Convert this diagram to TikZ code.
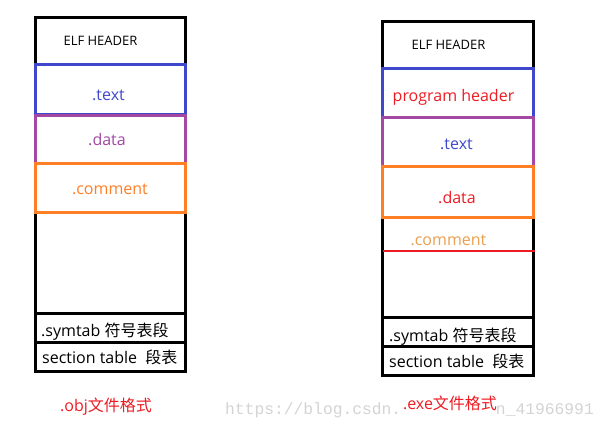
\documentclass[tikz,border=0pt]{standalone}
\usepackage{fontspec}
\setmainfont{Open Sans}
\newfontfamily\cjk{Noto Sans CJK SC}
\newfontfamily\wmfont{Liberation Mono}
\definecolor{pblue}{HTML}{3F48CC}
\definecolor{ppurple}{HTML}{A349A4}
\definecolor{porange}{HTML}{FF7F27}
\definecolor{pred}{HTML}{ED1C24}
\definecolor{ptan}{HTML}{E8A050}
\definecolor{wmgray}{HTML}{D4D4D4}
\tikzset{
  frame/.style={draw=black, line width=3pt},
  sect/.style={line width=3pt},
  lbl/.style={inner sep=0pt, anchor=base, font=\fontsize{16}{18}\selectfont},
  hdr/.style={inner sep=0pt, anchor=base, font=\fontsize{13}{15}\selectfont},
  rowlbl/.style={inner sep=0pt, anchor=base west, font=\fontsize{16}{18}\selectfont},
  wm/.style={inner sep=0pt, text=wmgray, font=\wmfont\fontsize{16.3}{18}\selectfont},
}
\begin{document}
\begin{tikzpicture}[x=1pt,y=-1pt]
\useasboundingbox[fill=white] (0,0) rectangle (606,430);

% watermark (visible parts)
\node[wm, anchor=base west] (wm1) at (225,415) {https://blog.csdn.};
\node[wm, anchor=base east] (wm2) at (594,415) {n\_41966991};

% ---------- left: .obj ----------
\draw[frame] (35,18) rectangle (185,372);
\draw[frame] (35,314) -- (185,314);
\draw[frame] (35,343) -- (185,343);
\draw[sect, draw=pblue] (35,65) rectangle (185,115);
\draw[sect, draw=ppurple] (35,116) rectangle (185,164);
\draw[sect, draw=porange] (35,164) rectangle (185,213);

\node[hdr] (lelf) at (100.5,46) {ELF HEADER};
\node[lbl, text=pblue] (ltext) at (108.5,100.5) {.text};
\node[lbl, text=ppurple] (ldata) at (107,146) {.data};
\node[lbl, text=porange] (lcomment) at (110,195) {.comment};
\node[rowlbl] (lsym) at (41,337) {.symtab {\cjk 符号表段}};
\node[rowlbl] (lsec) at (42,364) {section table\ \ {\cjk 段表}};
\node[lbl, text=pred] (lobj) at (106,412) {.obj{\cjk 文件格式}};

% ---------- right: .exe ----------
\draw[frame] (382,22) rectangle (533,376);
\draw[frame] (382,318) -- (533,318);
\draw[frame] (382,347) -- (533,347);
\draw[sect, draw=pblue] (382,69) rectangle (533,118);
\draw[sect, draw=ppurple] (382,118) rectangle (533,167);
\draw[sect, draw=porange] (382,167) rectangle (533,218);
\draw[line width=2.5pt, draw=pred] (383,251) -- (535,251);

\node[hdr] (relf) at (448.5,50) {ELF HEADER};
\node[lbl, text=pred] (rph) at (453.5,102) {program header};
\node[lbl, text=pblue] (rtext) at (456.5,150) {.text};
\node[lbl, text=pred] (rdata) at (457,204) {.data};
\node[lbl, text=ptan] (rcomment) at (448.5,246) {.comment};
\node[rowlbl] (rsym) at (389,342) {.symtab {\cjk 符号表段}};
\node[rowlbl] (rsec) at (389,368) {section table\ \ {\cjk 段表}};
\node[lbl, text=pred] (rexe) at (450,410) {.exe{\cjk 文件格式}};
\end{tikzpicture}
\end{document}
